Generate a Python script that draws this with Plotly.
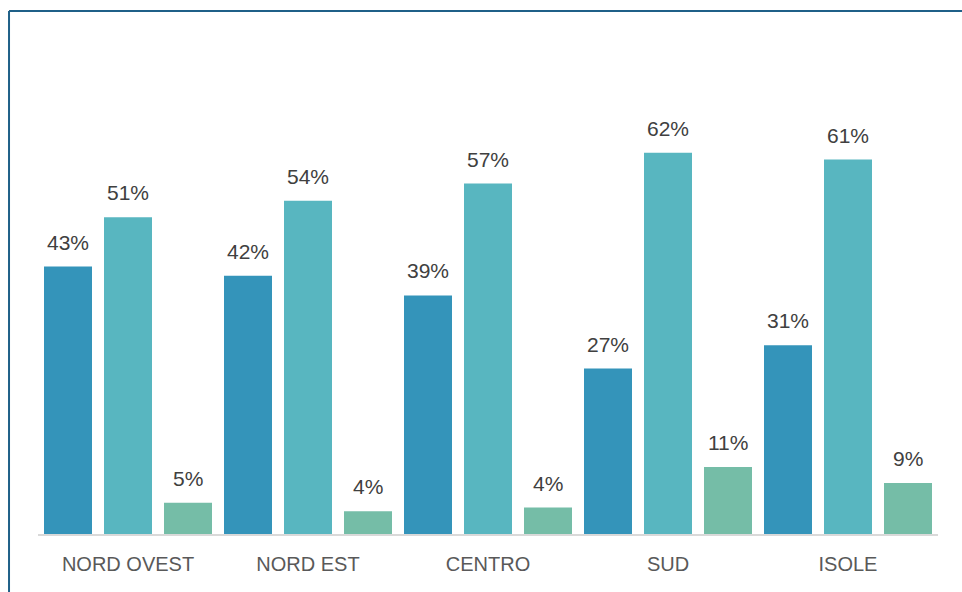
import plotly.graph_objects as go

# regions (x axis)
regioni = ["NORD OVEST", "NORD EST", "CENTRO", "SUD", "ISOLE"]

# three series, values (%)
serie_a = [43.5, 42.0, 38.8, 26.9, 30.7]
serie_b = [51.5, 54.2, 57.0, 62.0, 60.9]
serie_c = [5.1, 3.7, 4.3, 10.9, 8.3]

# labels as printed above the bars
etichette_a = ["43%", "42%", "39%", "27%", "31%"]
etichette_b = ["51%", "54%", "57%", "62%", "61%"]
etichette_c = ["5%", "4%", "4%", "11%", "9%"]

colori = ["#3494BA", "#58B6C0", "#75BDA7"]
font_base = "Arial, Liberation Sans, sans-serif"

fig = go.Figure()
serie = [(serie_a, etichette_a), (serie_b, etichette_b), (serie_c, etichette_c)]
for i, (vals, labs) in enumerate(serie):
    fig.add_trace(go.Bar(x=regioni, y=vals, marker_color=colori[i],
                         marker_line_width=0, showlegend=False,
                         hoverinfo="skip"))
    # value labels, shifted onto each bar of the group
    for reg, v, lab in zip(regioni, vals, labs):
        fig.add_annotation(x=reg, y=v, text=lab, showarrow=False,
                           xref="x", yref="y", yanchor="bottom",
                           xshift=(i - 1) * 60, yshift=11,
                           font=dict(family=font_base, size=21, color="#404040"))

fig.update_layout(
    width=962, height=592,
    margin=dict(l=38, r=24, t=20, b=58),
    paper_bgcolor="white", plot_bgcolor="white",
    barmode="group", bargap=0, bargroupgap=0.2,
    font=dict(family=font_base),
)
fig.update_xaxes(showline=True, linecolor="#D9D9D9", linewidth=2,
                 showgrid=False, ticks="", ticklabelstandoff=11,
                 tickfont=dict(family=font_base, size=20, color="#595959"))
fig.update_yaxes(range=[0, 83.6], visible=False, showgrid=False)

# chart frame: only left and top edges fall inside the picture
cornice = dict(color="#1F6088", width=2)
fig.add_shape(type="line", xref="paper", yref="paper",
              x0=-0.0322, x1=-0.0322, y0=-0.2, y1=1.0175, line=cornice)
fig.add_shape(type="line", xref="paper", yref="paper",
              x0=-0.0322, x1=1.03, y0=1.0175, y1=1.0175, line=cornice)

# drop the default page margin so the figure fills the window exactly
fig.write_html("out.html", config={"displayModeBar": False},
               post_script="document.body.style.margin='0';"
                           "document.body.style.overflow='hidden';")
